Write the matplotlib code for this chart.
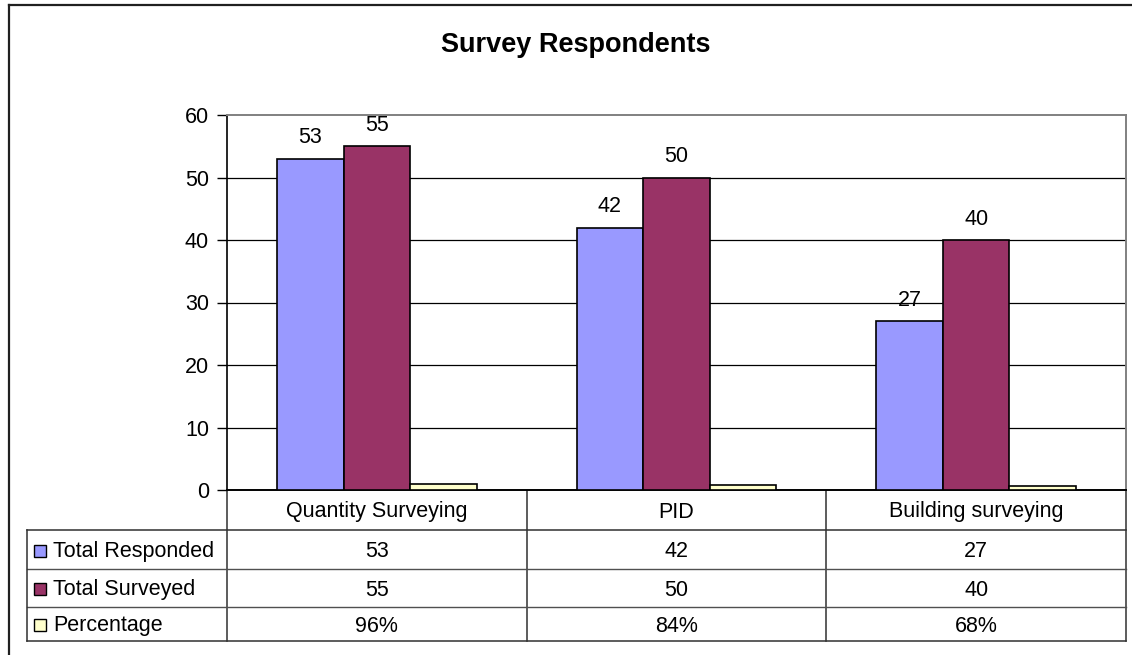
import matplotlib
matplotlib.use("Agg")
import matplotlib.pyplot as plt
from matplotlib.patches import Rectangle
from matplotlib.lines import Line2D
from matplotlib.transforms import blended_transform_factory
import numpy as np

plt.rcParams['font.family'] = ['Liberation Sans', 'DejaVu Sans']

title = "Survey Respondents"
categories = ["Quantity Surveying", "PID", "Building surveying"]
series_names = ["Total Responded", "Total Surveyed", "Percentage"]
total_responded = [53, 42, 27]
total_surveyed = [55, 50, 40]
percentage = [0.96, 0.84, 0.68]
percentage_labels = ["96%", "84%", "68%"]
yticks = [0, 10, 20, 30, 40, 50, 60]
colors = ["#9999FF", "#993366", "#FFFFCC"]

W, H = 1132, 655
fig = plt.figure(figsize=(W / 100, H / 100), dpi=100)
fig.patch.set_facecolor("white")

# main plot axes
L, R, T, B = 227, 1126, 115, 490
ax = fig.add_axes([L / W, 1 - B / H, (R - L) / W, (B - T) / H])
x = np.arange(len(categories))
bw = 0.222
series = [total_responded, total_surveyed, percentage]
for k, (vals, c) in enumerate(zip(series, colors)):
    ax.bar(x + (k - 1) * bw, vals, width=bw, color=c, edgecolor="black",
           linewidth=1.2, zorder=3)
    if k < 2:
        for xi, v in zip(x + (k - 1) * bw, vals):
            ax.annotate(str(v), (xi, v), xytext=(0, 15), textcoords="offset points",
                        ha="center", va="center", fontsize=15.5, color="black")

ax.set_xlim(-0.5, len(categories) - 0.5)
ax.set_ylim(0, 60)
ax.set_yticks(yticks)
ax.set_yticklabels([str(t) for t in yticks], fontsize=15.5)
ax.set_xticks([])
ax.tick_params(axis="y", length=7, width=1, pad=6, colors="black")
for t in yticks[1:-1]:
    ax.axhline(t, color="black", linewidth=0.9, zorder=1)
ax.spines["left"].set_color("black")
ax.spines["bottom"].set_color("black")
ax.spines["left"].set_linewidth(1.2)
ax.spines["bottom"].set_linewidth(1.4)
ax.spines["top"].set_color("#808080")
ax.spines["right"].set_color("#808080")
ax.spines["top"].set_linewidth(1.4)
ax.spines["right"].set_linewidth(1.4)

# overlay axes in pixel coordinates for the data table and border
ov = fig.add_axes([0, 0, 1, 1], zorder=-1)
ov.set_xlim(0, W)
ov.set_ylim(H, 0)
ov.axis("off")
blend = blended_transform_factory(ax.transData, ov.transData)

# outer chart border
ov.add_line(Line2D([8.5, 8.5], [5, H], color="#202020", linewidth=1.6))
ov.add_line(Line2D([8.5, W], [5, 5], color="#202020", linewidth=1.6))

# title
ov.text(576, 45, title, ha="center", va="center", fontsize=19.5,
        fontweight="bold", color="black")

# table geometry (pixel rows)
row_edges = [490, 530, 569, 607, 641]
tab_left = 27
lc = "#303030"
dy = 2
for b in np.arange(len(categories) + 1) - 0.5:
    ov.add_line(Line2D([b, b], [row_edges[0], row_edges[-1]], color=lc,
                       linewidth=1.1, transform=blend))
ov.add_line(Line2D([tab_left, R], [row_edges[1], row_edges[1]], color=lc, linewidth=1.1))
ov.add_line(Line2D([tab_left, R], [row_edges[2], row_edges[2]], color="#505050", linewidth=1.0))
ov.add_line(Line2D([tab_left, R], [row_edges[3], row_edges[3]], color="#505050", linewidth=1.0))
ov.add_line(Line2D([tab_left, R], [row_edges[4], row_edges[4]], color=lc, linewidth=1.1))
ov.add_line(Line2D([tab_left, tab_left], [row_edges[1], row_edges[4]], color=lc, linewidth=1.1))

# category header
yc = (row_edges[0] + row_edges[1]) / 2 + dy
for xi, cat in zip(x, categories):
    ov.text(xi, yc, cat, ha="center", va="center", fontsize=15.5, transform=blend)

# series rows
row_text = [[str(v) for v in total_responded], [str(v) for v in total_surveyed], percentage_labels]
for r, (name, c, texts) in enumerate(zip(series_names, colors, row_text)):
    yc = (row_edges[r + 1] + row_edges[r + 2]) / 2
    ov.add_patch(Rectangle((34, yc - 5), 12, 12, facecolor=c, edgecolor="black", linewidth=1.0))
    ov.text(53, yc + dy, name, ha="left", va="center", fontsize=15.5)
    for xi, t in zip(x, texts):
        ov.text(xi, yc + dy, t, ha="center", va="center", fontsize=15.5, transform=blend)

fig.savefig("out.png", dpi=100, facecolor="white")
